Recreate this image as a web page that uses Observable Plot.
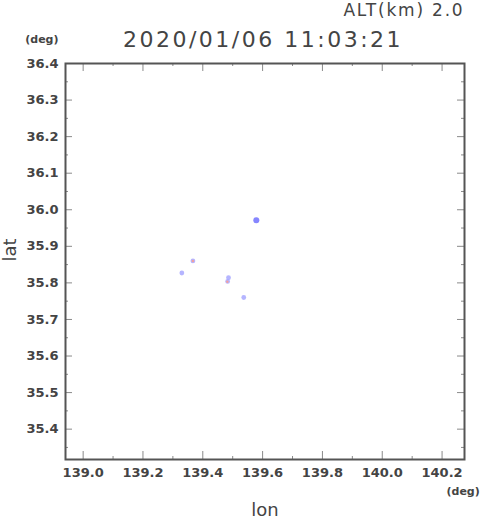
<!DOCTYPE html>
<html>
<head>
<meta charset="utf-8">
<script src="https://cdn.jsdelivr.net/npm/d3@7"></script>
<script src="https://cdn.jsdelivr.net/npm/@observablehq/plot@0.6"></script>
<style>
  html, body { margin: 0; padding: 0; background: #fff; }
  #chart svg { display: block; }
</style>
</head>
<body>
<div id="chart"></div>
<script>
// ---- data ----
const titleText = "2020/01/06 11:03:21";
const altText = "ALT(km) 2.0";
const xLabel = "lon";
const yLabel = "lat";
const unitText = "(deg)";

const lonDomain = [138.941, 140.275];
const latDomain = [35.317, 36.4];

const xTickLabels = [139.0, 139.2, 139.4, 139.6, 139.8, 140.0, 140.2];
const xMinorTicks = [139.1, 139.3, 139.5, 139.7, 139.9, 140.1];
const yTickLabels = [35.4, 35.5, 35.6, 35.7, 35.8, 35.9, 36.0, 36.1, 36.2, 36.3, 36.4];
const yMinorTicks = [35.35, 35.45, 35.55, 35.65, 35.75, 35.85, 35.95, 36.05, 36.15, 36.25, 36.35];

// source points (lavender)
const srcLon = [139.579, 139.367, 139.330, 139.486, 139.483, 139.537];
const srcLat = [35.971, 35.860, 35.827, 35.814, 35.804, 35.760];
const srcKind = ["strong", "weak", "weak", "weak", "weak", "weak"];
// faint pink cores
const coreLon = [139.367, 139.482];
const coreLat = [35.860, 35.803];

// ---- build ----
const W = 490, H = 521;
const M = {top: 63, right: 26, bottom: 62, left: 65};
const innerH = H - M.top - M.bottom;
const innerW = W - M.left - M.right;

const src = srcLon.map((x, i) => ({lon: x, lat: srcLat[i], kind: srcKind[i]}));
const core = coreLon.map((x, i) => ({lon: x, lat: coreLat[i]}));

const tickColor = "#8a8a8a";
const textColor = "#444";
const fmt = d3.format(".1f");

const plot = Plot.plot({
  width: W,
  height: H,
  marginTop: M.top,
  marginRight: M.right,
  marginBottom: M.bottom,
  marginLeft: M.left,
  style: {background: "#fff", fontFamily: "DejaVu Sans", color: textColor},
  x: {domain: lonDomain, axis: null},
  y: {domain: latDomain, axis: null},
  marks: [
    // inward ticks: bottom & top
    Plot.ruleX(xTickLabels, {insetTop: innerH - 8, stroke: tickColor}),
    Plot.ruleX(xMinorTicks, {insetTop: innerH - 3, stroke: tickColor}),
    Plot.ruleX(xTickLabels, {insetBottom: innerH - 8, stroke: tickColor}),
    Plot.ruleX(xMinorTicks, {insetBottom: innerH - 3, stroke: tickColor}),
    // inward ticks: left & right
    Plot.ruleY(yTickLabels, {insetRight: innerW - 7, stroke: tickColor}),
    Plot.ruleY(yMinorTicks, {insetRight: innerW - 3, stroke: tickColor}),
    Plot.ruleY(yTickLabels, {insetLeft: innerW - 7, stroke: tickColor}),
    Plot.ruleY(yMinorTicks, {insetLeft: innerW - 3, stroke: tickColor}),
    Plot.frame({stroke: "#555", strokeWidth: 2}),
    // tick labels
    Plot.axisX({
      anchor: "bottom", ticks: xTickLabels, tickSize: 0, tickPadding: 8,
      tickFormat: fmt, label: null, fontSize: 13, fontWeight: "bold", fill: textColor
    }),
    Plot.axisY({
      anchor: "left", ticks: yTickLabels, tickSize: 0, tickPadding: 7,
      tickFormat: fmt, label: null, fontSize: 13, fontWeight: "bold", fill: textColor
    }),
    // data
    Plot.dot(src.filter(d => d.kind === "weak"), {
      x: "lon", y: "lat", r: 2.4, fill: "#a8a8ff", fillOpacity: 0.85, stroke: "none"
    }),
    Plot.dot(src.filter(d => d.kind === "strong"), {
      x: "lon", y: "lat", r: 3, fill: "#8686ff", stroke: "none"
    }),
    Plot.dot(core, {x: "lon", y: "lat", r: 1.2, fill: "#f2a0a0", stroke: "none"}),
    // texts
    Plot.text([titleText], {
      frameAnchor: "top", dx: -2, dy: -24, lineAnchor: "middle",
      fontSize: 22, fill: textColor
    }),
    Plot.text([altText], {
      frameAnchor: "top-right", textAnchor: "end", dy: -53, dx: 0, lineAnchor: "middle",
      fontSize: 17, fill: textColor
    }),
    Plot.text([unitText], {
      frameAnchor: "top-left", textAnchor: "end", dx: -7, dy: -24, lineAnchor: "middle",
      fontSize: 11, fontWeight: "bold", fill: textColor
    }),
    Plot.text([unitText], {
      frameAnchor: "bottom-right", textAnchor: "start", dx: -18, dy: 32, lineAnchor: "middle",
      fontSize: 11, fontWeight: "bold", fill: textColor
    }),
    Plot.text([xLabel], {
      frameAnchor: "bottom", dy: 51, lineAnchor: "middle",
      fontSize: 18, fill: textColor
    }),
    Plot.text([yLabel], {
      frameAnchor: "left", dx: -55, rotate: -90, lineAnchor: "middle",
      fontSize: 18, fill: textColor
    })
  ]
});

d3.select(plot).selectAll("text")
  .filter(function() { return this.textContent === titleText; })
  .attr("letter-spacing", "2.5px");
d3.select(plot).selectAll("text")
  .filter(function() { return this.textContent === altText; })
  .attr("letter-spacing", "1.8px");

document.getElementById("chart").appendChild(plot);
</script>
</body>
</html>
